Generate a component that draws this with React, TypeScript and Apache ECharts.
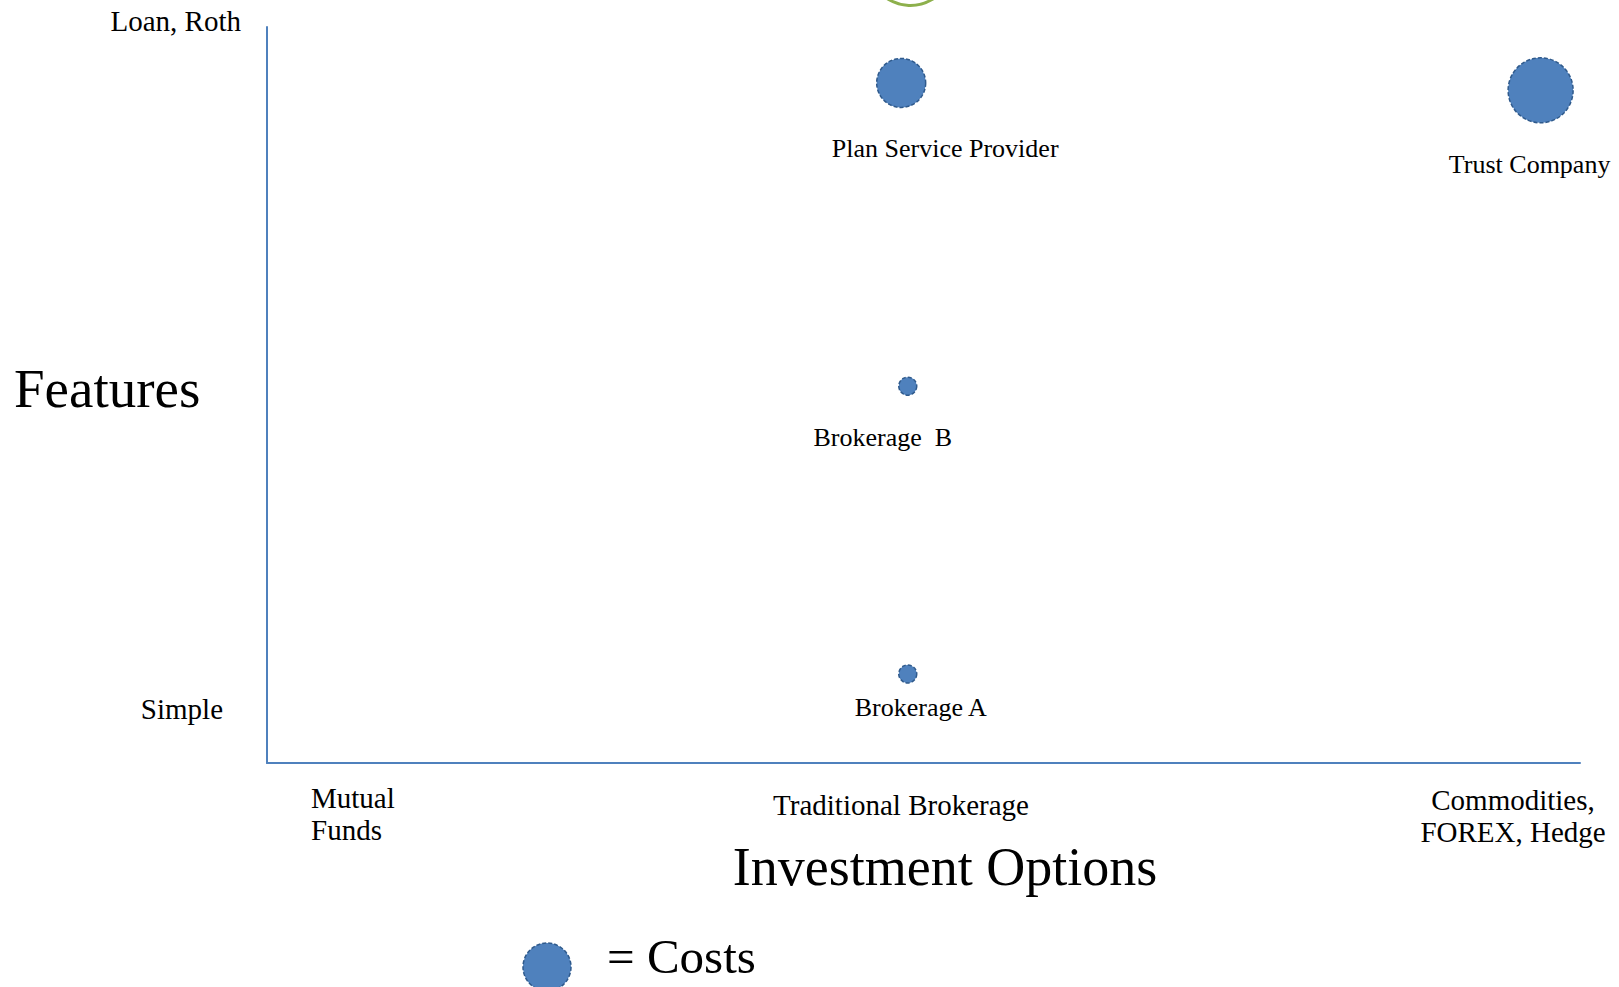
import React, { useEffect, useRef } from "react";
import * as echarts from "echarts";

// ---- data ----
const providers = ["Plan Service Provider", "Trust Company", "Brokerage  B", "Brokerage A"];
const investmentOptions = [48.3, 97.0, 48.8, 48.8]; // x (0-100 scale)
const features = [92.4, 91.4, 51.2, 12.1]; // y (0-100 scale)
const costs = [49, 65, 18, 18]; // bubble diameter in px

const highlight = { x: 49.0, y: 108.7, size: 85 };

const xTickLabels = ["Mutual\nFunds", "Traditional Brokerage", "Commodities,\nFOREX, Hedge"];
const yTickLabels = ["Simple", "Loan, Roth"];
const xAxisTitle = "Investment Options";
const yAxisTitle = "Features";
const legendText = "= Costs";

// ---- styles ----
const FONT = "'Liberation Serif', 'Times New Roman', serif";
const BLUE = "#4f81bd";
const BORDER = "#2f5a8c";
const GREEN = "#8db04c";
const labelOffsets: [number, number][] = [
  [44, 66],
  [-11, 74],
  [-25, 51],
  [13, 34],
];

export default function App() {
  const ref = useRef<HTMLDivElement>(null);
  useEffect(() => {
    if (!ref.current) return;
    const chart = echarts.init(ref.current, undefined, { renderer: "svg" });
    const bubbleData = providers.map((name, i) => ({
      name,
      value: [investmentOptions[i], features[i], costs[i]],
      label: {
        show: true,
        position: "inside",
        offset: labelOffsets[i],
        formatter: name,
        fontFamily: FONT,
        fontSize: 26,
        color: "#000",
      },
    }));
    const small = { fontFamily: FONT, fontSize: 29, fill: "#000" };
    chart.setOption({
      animation: false,
      grid: { left: 267, right: 39, top: 27, bottom: 224 },
      xAxis: {
        type: "value",
        min: 0,
        max: 100,
        axisLine: { show: true, lineStyle: { color: BLUE, width: 2 } },
        axisTick: { show: false },
        axisLabel: { show: false },
        splitLine: { show: false },
      },
      yAxis: {
        type: "value",
        min: 0,
        max: 100,
        axisLine: { show: true, lineStyle: { color: BLUE, width: 2 } },
        axisTick: { show: false },
        axisLabel: { show: false },
        splitLine: { show: false },
      },
      series: [
        {
          type: "scatter",
          clip: false,
          data: [[highlight.x, highlight.y, highlight.size]],
          symbolSize: (v: number[]) => v[2],
          itemStyle: { color: "rgba(0,0,0,0)", borderColor: GREEN, borderWidth: 3, opacity: 1 },
          silent: true,
        },
        {
          type: "scatter",
          clip: false,
          data: bubbleData,
          symbolSize: (v: number[]) => v[2],
          itemStyle: {
            color: BLUE,
            borderColor: BORDER,
            borderWidth: 1.5,
            borderType: [4, 2],
            opacity: 1,
          },
        },
      ],
      graphic: [
        { type: "text", x: 241, y: 21, style: { ...small, text: yTickLabels[1], textAlign: "right", textVerticalAlign: "middle" } },
        { type: "text", x: 223, y: 709, style: { ...small, text: yTickLabels[0], textAlign: "right", textVerticalAlign: "middle" } },
        { type: "text", x: 311, y: 814, style: { ...small, text: xTickLabels[0], textAlign: "left", textVerticalAlign: "middle", lineHeight: 32 } },
        { type: "text", x: 901, y: 805, style: { ...small, text: xTickLabels[1], textAlign: "center", textVerticalAlign: "middle" } },
        { type: "text", x: 1513, y: 816, style: { ...small, text: xTickLabels[2], textAlign: "center", textVerticalAlign: "middle", lineHeight: 32 } },
        { type: "text", x: 14, y: 388, style: { fontFamily: FONT, fontSize: 55, fill: "#000", text: yAxisTitle, textAlign: "left", textVerticalAlign: "middle" } },
        { type: "text", x: 945, y: 867, style: { fontFamily: FONT, fontSize: 54, fill: "#000", text: xAxisTitle, textAlign: "center", textVerticalAlign: "middle" } },
        {
          type: "circle",
          shape: { cx: 547, cy: 967, r: 24 },
          style: { fill: BLUE, stroke: BORDER, lineWidth: 1.5, lineDash: [4, 2] },
        },
        { type: "text", x: 607, y: 956, style: { fontFamily: FONT, fontSize: 49, lineHeight: 44, fill: "#000", text: legendText, textAlign: "left", textVerticalAlign: "middle" } },
      ],
    });
    return () => chart.dispose();
  }, []);
  return (
    <div
      ref={ref}
      style={{ position: "fixed", left: 0, top: 0, width: 1619, height: 987, background: "#fff" }}
    />
  );
}
